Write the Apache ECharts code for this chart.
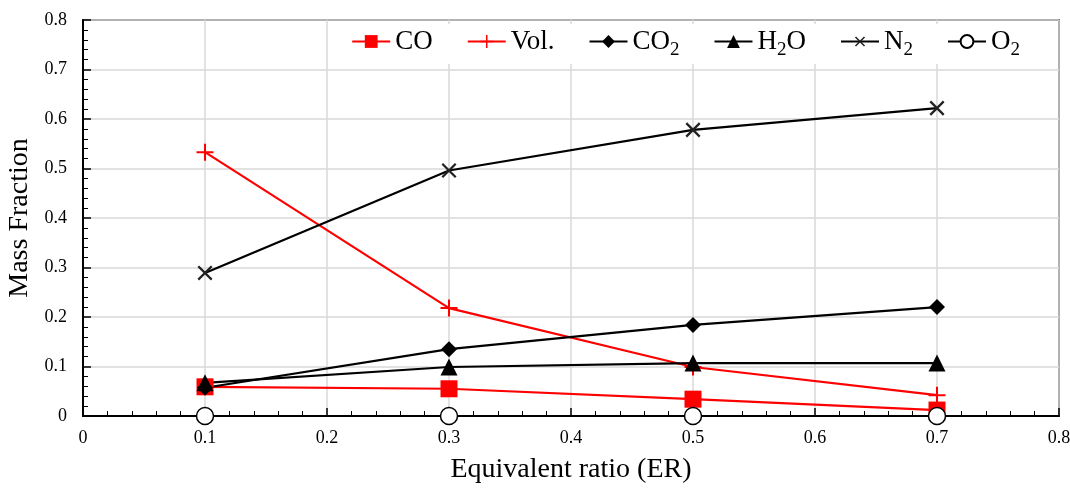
<!DOCTYPE html>
<html>
<head>
<meta charset="utf-8">
<script src="https://cdn.jsdelivr.net/npm/echarts@6/dist/echarts.min.js"></script>
<style>
  html, body { margin: 0; padding: 0; background: #fff; }
  #main { width: 1070px; height: 489px; }
</style>
</head>
<body>
<div id="main"></div>
<script>
  // equivalent ratio values
  var er = [0.1, 0.3, 0.5, 0.7];
  var co = [0.059, 0.055, 0.034, 0.012];
  var vol = [0.533, 0.218, 0.099, 0.042];
  var co2 = [0.057, 0.135, 0.184, 0.220];
  var h2o = [0.067, 0.099, 0.107, 0.107];
  var n2 = [0.289, 0.496, 0.578, 0.622];
  var o2 = [0, 0, 0, 0];

  var plusPath = 'path://M0,4.4H10V5.6H0Z M4.4,0H5.6V10H4.4Z';

  function pairs(ys) {
    return er.map(function (x, i) { return [x, ys[i]]; });
  }

  function mk(name, ys, color, symbol, size, extra) {
    var s = {
      name: name,
      type: 'line',
      data: pairs(ys),
      symbol: symbol,
      symbolSize: size,
      lineStyle: { color: color, width: 2.2 },
      itemStyle: { color: color },
      z: 3
    };
    for (var k in extra) s[k] = extra[k];
    return s;
  }

  var chart = echarts.init(document.getElementById('main'));
  chart.setOption({
    animation: false,
    grid: {
      left: 83, right: 11, top: 20, bottom: 73,
      outerBoundsMode: 'none',
      containLabel: false,
      show: true, borderColor: '#000', borderWidth: 1.5
    },
    legend: {
      right: 40, top: 24,
      itemWidth: 38, itemHeight: 16, itemGap: 34,
      backgroundColor: '#fff',
      padding: [4, 10],
      formatter: function (name) {
        return name.replace(/(\d)/, '{s|$1}').replace(/^([^{]+)/, '{a|$1}').replace(/\}([A-Za-z]+)$/, '}{a|$1}');
      },
      textStyle: {
        fontFamily: 'Liberation Serif',
        fontSize: 27,
        color: '#000',
        rich: {
          a: { fontFamily: 'Liberation Serif', fontSize: 27, color: '#000' },
          s: { fontFamily: 'Liberation Serif', fontSize: 19, color: '#000', verticalAlign: 'bottom', padding: [18, 0, 0, 0] }
        }
      },
      data: ['CO', 'Vol.', 'CO2', 'H2O', 'N2', 'O2']
    },
    xAxis: {
      type: 'value',
      min: 0, max: 0.8, interval: 0.1,
      name: 'Equivalent ratio (ER)',
      nameLocation: 'middle',
      nameGap: 40,
      nameTextStyle: { fontFamily: 'Liberation Serif', fontSize: 28, color: '#000' },
      axisLine: { onZero: false, lineStyle: { color: '#000', width: 2 } },
      axisTick: { inside: true, length: 8, lineStyle: { color: '#000', width: 1.5 } },
      minorTick: { show: true, splitNumber: 5, length: 5, lineStyle: { color: '#000', width: 1 } },
      axisLabel: {
        fontFamily: 'Liberation Serif', fontSize: 18, color: '#000', margin: 13,
        formatter: function (v) { return v === 0 ? '0' : v.toFixed(1); }
      },
      splitLine: { show: true, lineStyle: { color: '#d9d9d9', width: 1.5 } }
    },
    yAxis: {
      type: 'value',
      min: 0, max: 0.8, interval: 0.1,
      name: 'Mass Fraction',
      nameLocation: 'middle',
      nameGap: 42,
      nameTextStyle: { fontFamily: 'Liberation Serif', fontSize: 28, color: '#000' },
      axisLine: { lineStyle: { color: '#000', width: 2 } },
      axisTick: { inside: true, length: 8, lineStyle: { color: '#000', width: 1.5 } },
      minorTick: { show: true, splitNumber: 5, length: 5, lineStyle: { color: '#000', width: 1 } },
      axisLabel: {
        fontFamily: 'Liberation Serif', fontSize: 18, color: '#000', margin: 16,
        formatter: function (v) { return v === 0 ? '0' : v.toFixed(1); }
      },
      splitLine: { show: true, lineStyle: { color: '#d9d9d9', width: 1.5 } }
    },
    series: [
      mk('O2', o2, '#000', 'circle', 17, {
        itemStyle: { color: '#fff', borderColor: '#000', borderWidth: 1.5 }, z: 5
      }),
      mk('CO', co, '#ff0000', 'rect', 17, {}),
      mk('Vol.', vol, '#ff0000', plusPath, 17, {}),
      mk('CO2', co2, '#000', 'diamond', 16, {}),
      mk('H2O', h2o, '#000', 'triangle', 17, {}),
      mk('N2', n2, '#000', plusPath, 19, {
        symbolRotate: 45, itemStyle: { color: '#222' }, lineStyle: { color: '#000', width: 2.2 }
      })
    ]
  });
</script>
</body>
</html>
